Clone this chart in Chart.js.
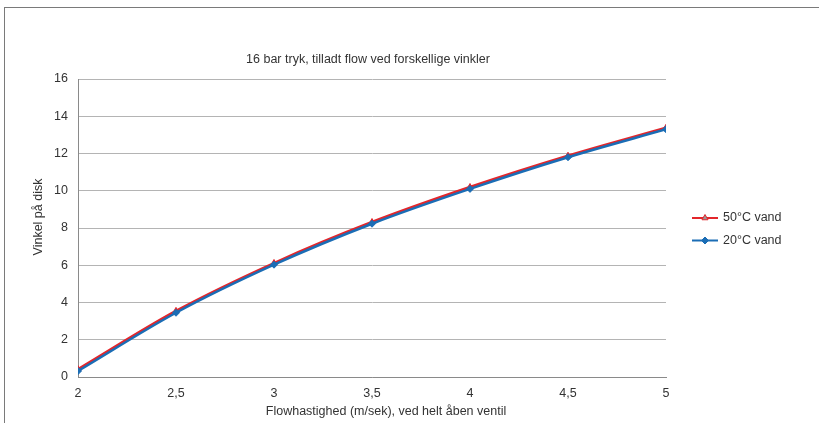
<!DOCTYPE html>
<html>
<head>
<meta charset="utf-8">
<script src="https://cdn.jsdelivr.net/npm/chart.js@4"></script>
<style>
  html, body { margin: 0; padding: 0; background: #fff; }
  #frame { position: absolute; left: 4px; top: 7px; width: 830px; height: 430px; border-left: 1px solid #7a7a7a; border-top: 1px solid #7a7a7a; box-sizing: border-box; }
  #wrap { position: absolute; left: 0; top: 0; width: 819px; height: 423px; }
</style>
</head>
<body>
<div id="frame"></div>
<div id="wrap"><canvas id="c" width="819" height="423"></canvas></div>
<script>
const chartTitle = "16 bar tryk, tilladt flow ved forskellige vinkler";
const xAxisTitle = "Flowhastighed (m/sek), ved helt åben ventil";
const yAxisTitle = "Vinkel på disk";
const flowSpeeds = [2, 2.5, 3, 3.5, 4, 4.5, 5];
const angle50C = [0.42, 3.55, 6.12, 8.32, 10.2, 11.88, 13.38];
const angle20C = [0.32, 3.45, 6.03, 8.23, 10.1, 11.8, 13.3];
const seriesNames = ["50°C vand", "20°C vand"];
const redColor = "#e3262b";
const blueColor = "#1b6db5";
const fontFamily = "'Liberation Sans', Arial, Helvetica, sans-serif";
const fontSize = 12.5;

const overlay = {
  id: 'overlay',
  afterDraw(chart) {
    const ctx = chart.ctx;
    const a = chart.chartArea;
    ctx.save();
    ctx.fillStyle = '#333';
    ctx.font = fontSize + 'px ' + fontFamily;
    ctx.textAlign = 'center';
    ctx.textBaseline = 'middle';
    ctx.fillText(chartTitle, (a.left + a.right) / 2 - 4, 60);
    ctx.fillText(xAxisTitle, (a.left + a.right) / 2 + 14, 412);
    ctx.save();
    ctx.translate(39, (a.top + a.bottom) / 2 - 11);
    ctx.rotate(-Math.PI / 2);
    ctx.fillText(yAxisTitle, 0, 0);
    ctx.restore();
    // legend
    const items = [
      { name: seriesNames[0], color: redColor, style: 'triangle' },
      { name: seriesNames[1], color: blueColor, style: 'rectRot' }
    ];
    items.forEach((it, i) => {
      const y = 218 + i * 22.5;
      ctx.strokeStyle = it.color;
      ctx.lineWidth = 2;
      ctx.beginPath();
      ctx.moveTo(692, y);
      ctx.lineTo(718, y);
      ctx.stroke();
      ctx.fillStyle = it.style === 'triangle' ? '#999' : it.color;
      ctx.strokeStyle = it.color;
      ctx.lineWidth = 1;
      Chart.helpers.drawPoint(ctx, { pointStyle: it.style, radius: 3.5, borderWidth: 1, rotation: 0 }, 705, y);
      ctx.fillStyle = '#333';
      ctx.textAlign = 'left';
      ctx.fillText(it.name, 723, y);
    });
    ctx.restore();
  }
};

new Chart(document.getElementById('c'), {
  type: 'line',
  data: {
    datasets: [
      {
        label: seriesNames[0],
        data: flowSpeeds.map((x, i) => ({ x: x, y: angle50C[i] })),
        borderColor: redColor,
        backgroundColor: redColor,
        borderWidth: 2.5,
        pointStyle: 'triangle',
        pointRadius: 3.5,
        pointBorderWidth: 1,
        cubicInterpolationMode: 'monotone',
        order: 2
      },
      {
        label: seriesNames[1],
        data: flowSpeeds.map((x, i) => ({ x: x, y: angle20C[i] })),
        borderColor: blueColor,
        backgroundColor: blueColor,
        borderWidth: 2.5,
        pointStyle: 'rectRot',
        pointRadius: 3.5,
        pointBorderWidth: 1,
        cubicInterpolationMode: 'monotone',
        order: 1
      }
    ]
  },
  options: {
    responsive: false,
    animation: false,
    layout: { padding: { left: 0, right: 153, top: 79, bottom: 0 } },
    plugins: {
      legend: { display: false },
      title: { display: false },
      tooltip: { enabled: false }
    },
    scales: {
      x: {
        type: 'linear',
        min: 2,
        max: 5,
        afterFit(s) { s.height = 46; },
        afterBuildTicks(s) { s.ticks = flowSpeeds.map(v => ({ value: v })); },
        grid: { display: false, drawTicks: false },
        border: { display: true, color: '#8a8a8a', width: 1 },
        ticks: {
          padding: 9,
          color: '#333',
          font: { family: fontFamily, size: fontSize },
          maxRotation: 0,
          callback: v => String(v).replace('.', ',')
        },
        title: { display: false }
      },
      y: {
        min: 0,
        max: 16,
        afterFit(s) { s.width = 78; },
        ticks: {
          stepSize: 2,
          padding: 10,
          color: '#333',
          font: { family: fontFamily, size: fontSize }
        },
        grid: { color: '#b4b4b4', lineWidth: 1, drawTicks: false },
        border: { display: true, color: '#8a8a8a', width: 1 },
        title: { display: false }
      }
    }
  },
  plugins: [overlay]
});
</script>
</body>
</html>
